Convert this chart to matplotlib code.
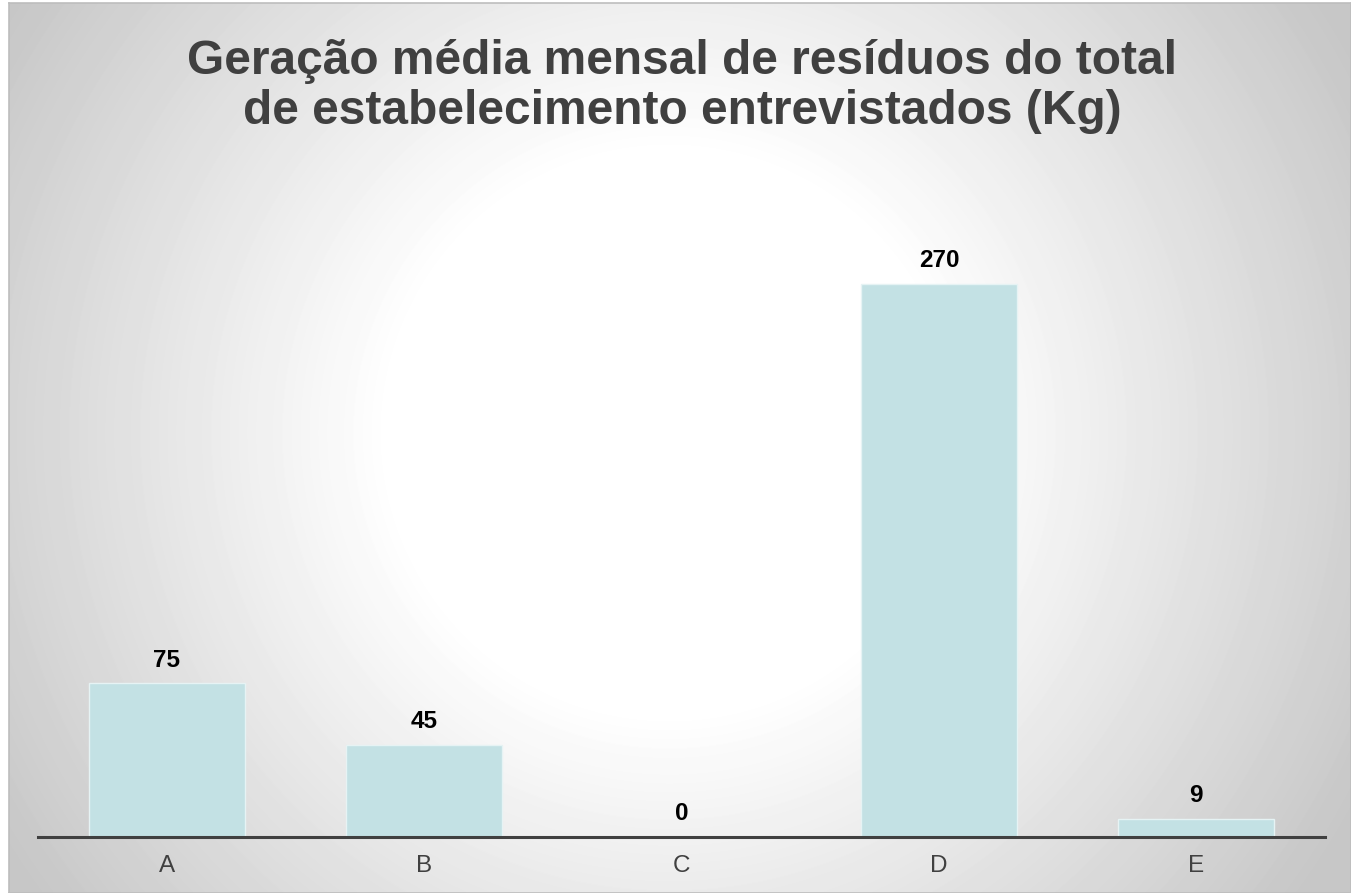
import matplotlib.pyplot as plt
import numpy as np

categories = ['A', 'B', 'C', 'D', 'E']
values = [75, 45, 0, 270, 9]

title = 'Geração média mensal de resíduos do total\nde estabelecimento entrevistados (Kg)'

plt.rcParams['font.family'] = ['Liberation Sans', 'DejaVu Sans']

W, H = 1351, 893
fig = plt.figure(figsize=[W/100., H/100.], dpi=100)
fig.patch.set_facecolor('white')

# radial grey -> white background
bg = fig.add_axes([9./W, 0., 1. - 9./W, (H - 3.)/H])
xx, yy = np.meshgrid(np.arange(W - 9), np.arange(H - 3))
r = np.sqrt((xx - 660.)**2 + (yy - 430.)**2)
shade = np.clip((r - 280.) / 500., 0., 1.)
grey = 1. - 0.22 * shade
bg.imshow(grey, cmap='gray', vmin=0., vmax=1., aspect='auto', interpolation='bilinear')
bg.set_xticks([])
bg.set_yticks([])
for s in bg.spines.values():
    s.set_color('#bdbdbd')
    s.set_linewidth(1.2)

ax = fig.add_axes([38./W, (H - 837.)/H, (1325. - 38.)/W, (837. - 180.)/H])
ax.patch.set_alpha(0.)

x = np.arange(len(categories))
ax.bar(x, values, width=0.605, color='#c3e1e4', edgecolor='#e6f3f4', linewidth=1.0, zorder=2)

ax.set_xlim(-0.5, len(categories) - 0.5)
ax.set_ylim(0, 657. / 2.048)

for xi, v in zip(x, values):
    ax.annotate(str(v), (xi, v), xytext=(0, 12), textcoords='offset points',
                ha='center', va='baseline', fontsize=17.5, fontweight='bold', color='black')

ax.set_xticks(x)
ax.set_xticklabels(categories, fontsize=17.5, color='#404040')
ax.tick_params(axis='x', length=0, pad=13)
ax.set_yticks([])
for s in ['left', 'right', 'top']:
    ax.spines[s].set_visible(False)
ax.spines['bottom'].set_color('#404040')
ax.spines['bottom'].set_linewidth(2.2)
ax.spines['bottom'].set_zorder(3)

fig.text(0.505, 1. - 39./H, title, ha='center', va='top', fontsize=34.5,
         fontweight='bold', color='#404040', linespacing=1.15)

fig.savefig('out.png', dpi=100)
